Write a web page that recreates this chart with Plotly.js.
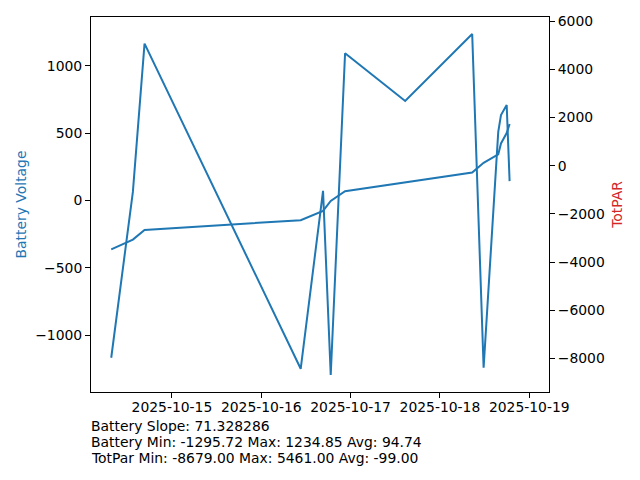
<!DOCTYPE html>
<html>
<head>
<meta charset="utf-8">
<script src="https://cdn.plot.ly/plotly-3.0.1.min.js"></script>
<style>html,body{margin:0;padding:0;background:#fff;}#chart{width:640px;height:480px;}</style>
</head>
<body>
<div id="chart"></div>
<script>
// Sample timestamps
const times = [
  "2025-10-14 07:42", "2025-10-14 13:31", "2025-10-14 16:39",
  "2025-10-16 10:36", "2025-10-16 16:36", "2025-10-16 18:40", "2025-10-16 22:31",
  "2025-10-17 14:40", "2025-10-18 08:40", "2025-10-18 11:44",
  "2025-10-18 15:40", "2025-10-18 16:24", "2025-10-18 17:56", "2025-10-18 18:43"
];
// Battery voltage (left axis)
const batteryValues = [-1168, 63, 1164, -1250, 71, -1295.72, 1092, 738, 1234.85, -1242, 509, 633, 708, 143];
// Slowly rising line (left axis)
const trendValues = [-363, -291, -219, -147, -78, -4, 68, 133, 207, 279, 341, 423, 500, 567];
// Stats text
const statLines = [
  "Battery Slope: 71.328286",
  "Battery Min: -1295.72 Max: 1234.85 Avg: 94.74",
  "TotPar Min: -8679.00 Max: 5461.00 Avg: -99.00"
];
const totParMin = -8679, totParMax = 5461;
const batMin = -1295.72, batMax = 1234.85;

const blue = "#1f77b4";
const font = {family: "DejaVu Sans, sans-serif", size: 13.9, color: "#000"};

const pad = (lo, hi) => [lo - 0.05 * (hi - lo), hi + 0.05 * (hi - lo)];

const traces = [
  {x: times, y: batteryValues, type: "scatter", mode: "lines", line: {color: blue, width: 2}, yaxis: "y", showlegend: false, hoverinfo: "skip"},
  {x: times, y: trendValues, type: "scatter", mode: "lines", line: {color: blue, width: 2}, yaxis: "y", showlegend: false, hoverinfo: "skip"},
  {x: [], y: [], type: "scatter", mode: "lines", yaxis: "y2", showlegend: false, hoverinfo: "skip"}
];

const lineYs = [-0.091, -0.1345, -0.176];
const annotations = statLines.map((t, i) => ({
  text: t, xref: "paper", yref: "paper", x: 0, y: lineYs[i], xshift: -2,
  xanchor: "left", yanchor: "middle", showarrow: false, font: font, align: "left"
}));

const axisCommon = {
  showgrid: false, zeroline: false, showline: true, linecolor: "#000", linewidth: 1,
  ticks: "outside", ticklen: 5, tickwidth: 1, tickcolor: "#000", tickfont: font
};

const layout = {
  width: 640, height: 480,
  margin: {l: 91, r: 91, t: 17, b: 88},
  paper_bgcolor: "#fff", plot_bgcolor: "#fff",
  font: font,
  showlegend: false,
  xaxis: Object.assign({}, axisCommon, {
    type: "date", range: ["2025-10-14 02:16", "2025-10-19 05:18"],
    tickformat: "%Y-%m-%d", dtick: 86400000, tick0: "2025-10-15", mirror: true,
    ticklabelstandoff: -3
  }),
  yaxis: Object.assign({}, axisCommon, {
    range: pad(batMin, batMax), dtick: 500, tick0: 0,
    title: {text: "Battery Voltage", font: Object.assign({}, font, {color: blue}), standoff: 5}
  }),
  yaxis2: Object.assign({}, axisCommon, {
    overlaying: "y", side: "right", range: pad(totParMin, totParMax), dtick: 2000, tick0: 0,
    title: {text: "TotPAR", font: Object.assign({}, font, {color: "#d62728"}), standoff: 8}
  }),
  annotations: annotations
};

Plotly.newPlot("chart", traces, layout, {staticPlot: true, displayModeBar: false});
</script>
</body>
</html>
